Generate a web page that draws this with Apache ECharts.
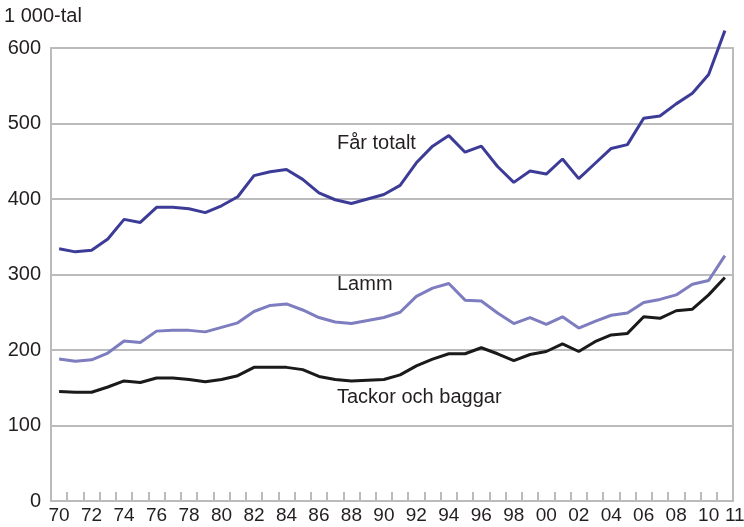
<!DOCTYPE html>
<html>
<head>
<meta charset="utf-8">
<script src="https://cdn.jsdelivr.net/npm/echarts@6/dist/echarts.min.js"></script>
<style>
  html, body { margin: 0; padding: 0; background: #fff; }
  #chart { width: 744px; height: 527px; }
</style>
</head>
<body>
<div id="chart"></div>
<script>
// år 1970–2011, tusental djur
const years = ['70','71','72','73','74','75','76','77','78','79','80','81','82','83','84','85','86','87','88','89',
  '90','91','92','93','94','95','96','97','98','99','00','01','02','03','04','05','06','07','08','09','10','11'];

const farTotalt = [334, 330, 332, 347, 373, 369, 389, 389, 387, 382, 391, 403, 431, 436, 439, 426, 408, 399, 394, 400,
  406, 418, 448, 470, 484, 462, 470, 443, 422, 437, 433, 453, 427, 447, 467, 472, 507, 510, 526, 540, 565, 623];

const lamm = [188, 185, 187, 196, 212, 210, 225, 226, 226, 224, 230, 236, 251, 259, 261, 253, 243, 237, 235, 239,
  243, 250, 271, 282, 288, 266, 265, 249, 235, 243, 234, 244, 229, 238, 246, 249, 263, 267, 273, 287, 292, 325];

const tackor = [145, 144, 144, 151, 159, 157, 163, 163, 161, 158, 161, 166, 177, 177, 177, 174, 165, 161, 159, 160,
  161, 167, 179, 188, 195, 195, 203, 195, 186, 194, 198, 208, 198, 211, 220, 222, 244, 242, 252, 254, 273, 296];

const gray = '#bbbbbe';
const font = 'Liberation Sans, Arial, sans-serif';

const chart = echarts.init(document.getElementById('chart'));

// sista etiketten (11) sitter tätt intill 10 – vänsterjustera den så båda syns
const xData = years.map((y, i) => i === years.length - 1 ? { value: y, textStyle: { align: 'left' } } : y);

// linjen för får totalt går över 600-linjen, så ingen klippning
const mkLine = (name, data, color) => ({
  name, type: 'line', data,
  symbol: 'none',
  clip: false,
  lineStyle: { width: 3, color },
  itemStyle: { color },
  animation: false
});

chart.setOption({
  backgroundColor: '#fff',
  textStyle: { fontFamily: font },
  grid: {
    left: 51, right: 11, top: 48, bottom: 26,
    outerBoundsMode: 'none', containLabel: false,
    show: true, borderColor: gray, borderWidth: 2
  },
  xAxis: {
    type: 'category',
    data: xData,
    boundaryGap: true,
    axisLine: { lineStyle: { color: gray, width: 2 } },
    axisTick: { show: true, inside: true, length: 9, interval: 0, lineStyle: { color: gray, width: 2 } },
    axisLabel: {
      color: '#231f20', fontSize: 19, margin: 5, fontFamily: font,
      showMaxLabel: true, hideOverlap: false,
      interval: (i) => i % 2 === 0 || i === years.length - 1
    }
  },
  yAxis: {
    type: 'value',
    min: 0, max: 600, interval: 100,
    axisLine: { show: true, lineStyle: { color: gray, width: 2 } },
    axisTick: { show: false },
    splitLine: { lineStyle: { color: gray, width: 2 } },
    axisLabel: { color: '#231f20', fontSize: 20, margin: 10, fontFamily: font }
  },
  graphic: [
    { type: 'text', left: 4, top: 6, style: { text: '1 000-tal', fontSize: 20, fontFamily: font, fill: '#231f20' } },
    { type: 'text', left: 337, top: 133, style: { text: 'Får totalt', fontSize: 20, fontFamily: font, fill: '#231f20' } },
    { type: 'text', left: 337, top: 274, style: { text: 'Lamm', fontSize: 20, fontFamily: font, fill: '#231f20' } },
    { type: 'text', left: 337, top: 387, style: { text: 'Tackor och baggar', fontSize: 20, fontFamily: font, fill: '#231f20' } }
  ],
  series: [
    mkLine('Får totalt', farTotalt, '#3c3c98'),
    mkLine('Lamm', lamm, '#7d7dbf'),
    mkLine('Tackor och baggar', tackor, '#1a1a1a')
  ]
});
</script>
</body>
</html>
